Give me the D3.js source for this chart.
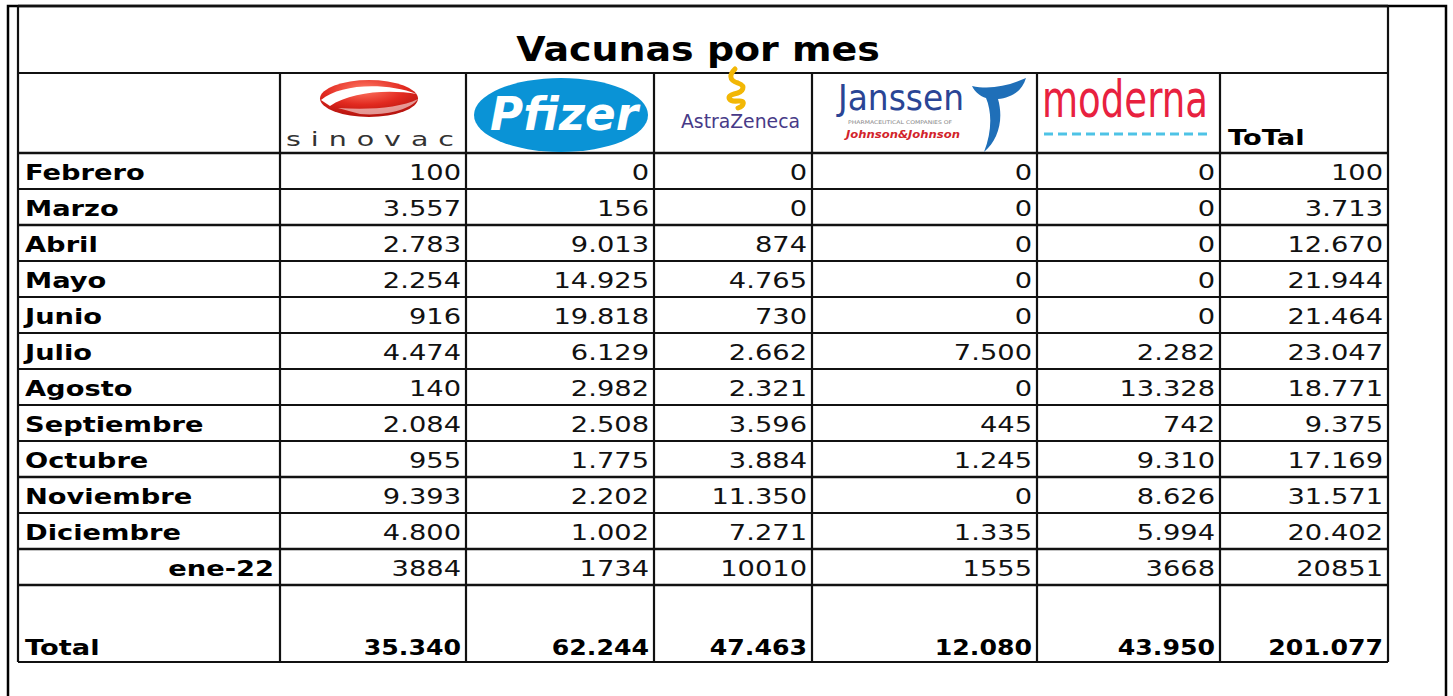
<!DOCTYPE html>
<html>
<head>
<meta charset="utf-8">
<script src="https://cdn.jsdelivr.net/npm/d3@7"></script>
<style>
  body { margin: 0; background: #fff; }
  text { font-family: "DejaVu Sans", Verdana, sans-serif; }
</style>
</head>
<body>
<div id="tabla"></div>
<script>
var meses = ["Febrero", "Marzo", "Abril", "Mayo", "Junio", "Julio", "Agosto", "Septiembre", "Octubre", "Noviembre", "Diciembre", "ene-22"];
var sinovac = [100, 3557, 2783, 2254, 916, 4474, 140, 2084, 955, 9393, 4800, 3884];
var pfizer = [0, 156, 9013, 14925, 19818, 6129, 2982, 2508, 1775, 2202, 1002, 1734];
var astra = [0, 0, 874, 4765, 730, 2662, 2321, 3596, 3884, 11350, 7271, 10010];
var janssen = [0, 0, 0, 0, 0, 7500, 0, 445, 1245, 0, 1335, 1555];
var moderna = [0, 0, 0, 0, 0, 2282, 13328, 742, 9310, 8626, 5994, 3668];
var totalMes = [100, 3713, 12670, 21944, 21464, 23047, 18771, 9375, 17169, 31571, 20402, 20851];
var totales = [35340, 62244, 47463, 12080, 43950, 201077];
var columnas = ["sinovac", "pfizer", "astra", "janssen", "moderna", "total"];
var series = [sinovac, pfizer, astra, janssen, moderna, totalMes];

var width = 1453, height = 696;
var svg = d3.select("#tabla").append("svg")
    .attr("width", width)
    .attr("height", height);

var bordes = [18, 280, 466, 654, 812, 1037, 1220, 1388];
var top0 = 6, titleBottom = 73, headBottom = 153, bodyBottom = 585, totalBottom = 662;

var y = d3.scaleBand().domain(meses).range([headBottom, bodyBottom]);
var xRight = d3.scaleOrdinal().domain(columnas).range(bordes.slice(2));

var es = d3.formatLocale({ decimal: ",", thousands: ".", grouping: [3], currency: ["", ""] });
var fmt = es.format(",d");
// la imagen original esta estirada a lo ancho
var sxLabel = 1.3, sxNum = 1.3, sxBold = 1.2;

// marco exterior
svg.append("path")
    .attr("d", "M8," + height + "V" + top0 + "H1446V" + height)
    .attr("fill", "none").attr("stroke", "#000").attr("stroke-width", 2.5);

// lineas horizontales
var hLines = [top0, titleBottom, headBottom].concat(meses.map(function (m) { return y(m) + y.bandwidth(); })).concat([totalBottom]);
svg.selectAll(".h").data(hLines).enter().append("line")
    .attr("x1", bordes[0]).attr("x2", bordes[7])
    .attr("y1", function (d) { return d; }).attr("y2", function (d) { return d; })
    .attr("stroke", "#111").attr("stroke-width", function (d, i) { return (i == 0 || i == 2 || i == 4 || i == 11 || i == 13 || i == 14) ? 2.6 : 2; });

// lineas verticales
svg.selectAll(".v").data(bordes).enter().append("line")
    .attr("x1", function (d) { return d; }).attr("x2", function (d) { return d; })
    .attr("y1", function (d, i) { return (i == 0 || i == 7) ? top0 : titleBottom; })
    .attr("y2", totalBottom)
    .attr("stroke", "#111").attr("stroke-width", 2.2);

// titulo
svg.append("text")
    .attr("transform", "translate(698,61) scale(1.15,1)")
    .attr("text-anchor", "middle")
    .attr("font-size", 33).attr("font-weight", "bold")
    .text("Vacunas por mes");

// etiquetas de meses
svg.selectAll(".mes").data(meses).enter().append("text")
    .attr("transform", function (d, i) {
        var xx = i == meses.length - 1 ? 274 : 25;
        return "translate(" + xx + "," + (y(d) + 27) + ") scale(" + sxLabel + ",1)";
    })
    .attr("text-anchor", function (d, i) { return i == meses.length - 1 ? "end" : "start"; })
    .attr("font-size", 21).attr("font-weight", "bold")
    .text(function (d) { return d; });

// celdas
columnas.forEach(function (c, ci) {
    svg.selectAll(".c" + ci).data(series[ci]).enter().append("text")
        .attr("transform", function (d, i) { return "translate(" + (xRight(c) - 5) + "," + (y(meses[i]) + 27) + ") scale(" + sxNum + ",1)"; })
        .attr("text-anchor", "end")
        .attr("font-size", 21)
        .attr("fill", "#111")
        .text(function (d, i) { return i == meses.length - 1 ? String(d) : fmt(d); });
});

// fila total
svg.append("text")
    .attr("transform", "translate(25,655) scale(" + sxLabel + ",1)")
    .attr("font-size", 21).attr("font-weight", "bold").text("Total");
svg.selectAll(".tot").data(totales).enter().append("text")
    .attr("transform", function (d, i) { return "translate(" + (xRight(columnas[i]) - 5) + ",655) scale(" + sxBold + ",1)"; })
    .attr("text-anchor", "end")
    .attr("font-size", 21).attr("font-weight", "bold")
    .text(function (d) { return fmt(d); });

// encabezado "ToTal"
svg.append("text")
    .attr("transform", "translate(1228,145) scale(1.3,1)")
    .attr("font-size", 21).attr("font-weight", "bold").text("ToTal");

// logos
var defs = svg.append("defs");
var rg = defs.append("radialGradient").attr("id", "rojo").attr("cx", "45%").attr("cy", "25%").attr("r", "75%");
rg.append("stop").attr("offset", "0%").attr("stop-color", "#ff7a66");
rg.append("stop").attr("offset", "55%").attr("stop-color", "#e22a20");
rg.append("stop").attr("offset", "100%").attr("stop-color", "#b3120d");

// sinovac
var sv = svg.append("g");
sv.append("ellipse").attr("cx", 369).attr("cy", 98.5).attr("rx", 49).attr("ry", 18.5).attr("fill", "url(#rojo)");
sv.append("path")
    .attr("d", "M321,100 C340,84 385,82 417,94 C388,89 350,92 330,106 Z")
    .attr("fill", "#fff");
sv.append("path")
    .attr("d", "M338,108 C370,110 400,108 418,99 C410,110 385,116 360,114 Z")
    .attr("fill", "#fff").attr("opacity", 0.55);
sv.append("text").attr("transform", "translate(286,146) scale(1.5,1)")
    .attr("font-size", 19).attr("fill", "#333")
    .attr("textLength", 112).attr("lengthAdjust", "spacing")
    .text("sinovac");

// pfizer
var pf = svg.append("g");
pf.append("ellipse").attr("cx", 561).attr("cy", 115).attr("rx", 87).attr("ry", 37).attr("fill", "#0a93d6");
pf.append("text").attr("x", 490).attr("y", 130)
    .attr("font-size", 46).attr("font-weight", "bold").attr("font-style", "italic")
    .attr("fill", "#fff").attr("font-family", "DejaVu Serif")
    .attr("textLength", 148).attr("lengthAdjust", "spacingAndGlyphs")
    .text("Pfizer");

// astrazeneca
var az = svg.append("g");
az.append("path")
    .attr("d", "M735,69 C730,74 728,80 738,83 C746,86 744,92 734,94 C726,96 728,102 738,101 C746,100 744,106 738,108")
    .attr("fill", "none").attr("stroke", "#f2b705").attr("stroke-width", 5)
    .attr("stroke-linejoin", "round").attr("stroke-linecap", "round");
az.append("text").attr("x", 681).attr("y", 128)
    .attr("font-size", 20).attr("fill", "#473a87").attr("font-family", "Liberation Sans")
    .attr("textLength", 119).attr("lengthAdjust", "spacingAndGlyphs")
    .text("AstraZeneca");

// janssen
var js = svg.append("g");
js.append("text").attr("x", 838).attr("y", 110)
    .attr("font-size", 35).attr("fill", "#2a4595").attr("font-family", "Liberation Sans")
    .attr("textLength", 126).attr("lengthAdjust", "spacingAndGlyphs")
    .text("Janssen");
js.append("text").attr("x", 848).attr("y", 124)
    .attr("font-size", 5).attr("fill", "#888")
    .attr("textLength", 104).attr("lengthAdjust", "spacingAndGlyphs")
    .text("PHARMACEUTICAL COMPANIES OF");
js.append("text").attr("x", 846).attr("y", 138)
    .attr("font-size", 11).attr("fill", "#d2232a").attr("font-weight", "bold").attr("font-style", "italic").attr("font-family", "DejaVu Serif")
    .attr("textLength", 114).attr("lengthAdjust", "spacingAndGlyphs")
    .text("Johnson&Johnson");
js.append("path")
    .attr("d", "M972,86 C990,90 1008,86 1026,78 C1022,92 1010,98 998,99 C1004,120 998,140 984,152 C992,132 992,112 986,98 C980,96 975,92 972,86 Z")
    .attr("fill", "#1f6fb8");

// moderna
var md = svg.append("g");
md.append("text").attr("x", 1042).attr("y", 117)
    .attr("font-size", 52).attr("fill", "#e8213f").attr("font-family", "Liberation Sans Narrow, Liberation Sans")
    .attr("textLength", 166).attr("lengthAdjust", "spacingAndGlyphs")
    .text("moderna");
md.append("line").attr("x1", 1044).attr("x2", 1210).attr("y1", 134).attr("y2", 134)
    .attr("stroke", "#4ec3e6").attr("stroke-width", 3).attr("stroke-dasharray", "9,5");
</script>
</body>
</html>
